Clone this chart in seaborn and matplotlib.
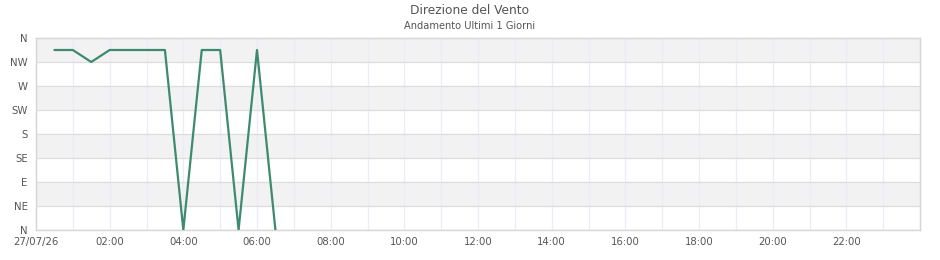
import matplotlib
matplotlib.use("Agg")
import matplotlib.pyplot as plt
from matplotlib.ticker import MultipleLocator, FixedLocator
import seaborn as sns
import pandas as pd

# data
hours = [0.5, 1.0, 1.5, 2.0, 2.5, 3.0, 3.5, 4.0, 4.5, 5.0, 5.5, 6.0, 6.5]
direction = [337.5, 337.5, 315, 337.5, 337.5, 337.5, 337.5, 0, 337.5, 337.5, 0, 337.5, 0]
y_labels = ["N", "NE", "E", "SE", "S", "SW", "W", "NW", "N"]
y_ticks = [0, 45, 90, 135, 180, 225, 270, 315, 360]
x_ticks = [0, 2, 4, 6, 8, 10, 12, 14, 16, 18, 20, 22]
x_labels = ["27/07/26", "02:00", "04:00", "06:00", "08:00", "10:00", "12:00",
            "14:00", "16:00", "18:00", "20:00", "22:00"]

sns.set_style("white")
plt.rcParams['font.family'] = ['DejaVu Sans']

fig = plt.figure(figsize=(9.4, 2.6), dpi=100)
ax = fig.add_axes([36/940, 30/260, (920-36)/940, (230-38)/260])

# alternating bands
for i in range(8):
    if i % 2 == 1:
        ax.axhspan(y_ticks[i], y_ticks[i+1], color="#f2f2f2", zorder=0, lw=0)

df = pd.DataFrame({"h": hours, "d": direction})
sns.lineplot(data=df, x="h", y="d", ax=ax, color="#3d8a6e", linewidth=1.6, zorder=3)

ax.set_xlim(0, 24)
ax.set_ylim(0, 360)
ax.yaxis.set_major_locator(FixedLocator(y_ticks))
ax.set_yticklabels(y_labels)
ax.set_xticks(x_ticks)
ax.set_xticklabels(x_labels)
ax.xaxis.set_minor_locator(MultipleLocator(1))
ax.set_xlabel("")
ax.set_ylabel("")

ax.grid(True, axis="x", which="both", color="#eeeaf8", linewidth=0.9, zorder=1)
ax.grid(True, axis="y", which="major", color="#dcdcdc", linewidth=0.9, zorder=1)
ax.set_axisbelow(True)

ax.tick_params(axis="both", which="both", length=0, labelsize=7.3, colors="#555555", pad=6)
ax.tick_params(axis="x", pad=5)
for s in ax.spines.values():
    s.set_color("#d6d6d6")
    s.set_linewidth(1.0)

fig.text(0.5, 1 - 11/260, "Direzione del Vento", ha="center", va="center",
         fontsize=8.8, color="#555555")
fig.text(0.5, 1 - 26/260, "Andamento Ultimi 1 Giorni", ha="center", va="center",
         fontsize=7.1, color="#555555")

fig.savefig("out.png", dpi=100)
